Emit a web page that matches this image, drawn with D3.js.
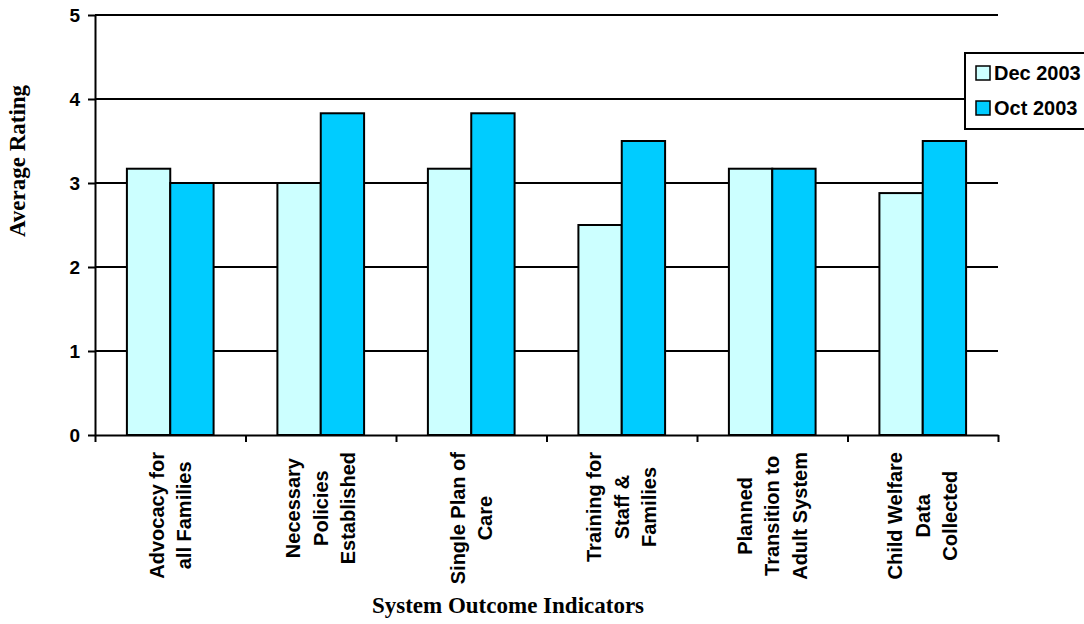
<!DOCTYPE html>
<html>
<head>
<meta charset="utf-8">
<script src="https://cdn.jsdelivr.net/npm/d3@7"></script>
<style>
  body { margin: 0; background: #fff; }
  svg { display: block; }
</style>
</head>
<body>
<svg id="chart" width="1084" height="624"></svg>
<script>
// Category labels (one entry per line of the wrapped label)
const categories = [
  ["Advocacy for", "all Families"],
  ["Necessary", "Policies", "Established"],
  ["Single Plan of", "Care"],
  ["Training for", "Staff &", "Families"],
  ["Planned", "Transition to", "Adult System"],
  ["Child Welfare", "Data", "Collected"]
];
const seriesNames = ["Dec 2003", "Oct 2003"];
const dec2003 = [3.17, 3.0, 3.17, 2.5, 3.17, 2.88];
const oct2003 = [3.0, 3.83, 3.83, 3.5, 3.17, 3.5];
const yTicks = [0, 1, 2, 3, 4, 5];
const seriesColors = ["#CCFFFF", "#00CCFF"];

const svg = d3.select("#chart");
const plot = { left: 95, right: 998, top: 15, bottom: 435 };

const y = d3.scaleLinear().domain([0, 5]).range([plot.bottom, plot.top]);
const x = d3.scaleBand()
  .domain(d3.range(categories.length))
  .range([plot.left, plot.right])
  .paddingInner(0.424)
  .paddingOuter(0.212);
const xSeries = d3.scaleBand().domain(seriesNames).range([0, x.bandwidth()]);
const xBoundary = d3.scaleLinear().domain([0, categories.length]).range([plot.left, plot.right]);

const values = [dec2003, oct2003];

// Horizontal gridlines
svg.append("g")
  .selectAll("line")
  .data(yTicks.filter(t => t > 0))
  .join("line")
  .attr("x1", plot.left).attr("x2", plot.right)
  .attr("y1", d => y(d)).attr("y2", d => y(d))
  .attr("stroke", "#000").attr("stroke-width", 2);

// Bars
const groups = svg.append("g")
  .selectAll("g")
  .data(categories.map((c, i) => i))
  .join("g")
  .attr("transform", i => `translate(${x(i)},0)`);

groups.selectAll("rect")
  .data(i => seriesNames.map((s, k) => ({ s, k, v: values[k][i] })))
  .join("rect")
  .attr("x", d => xSeries(d.s))
  .attr("width", xSeries.bandwidth())
  .attr("y", d => y(d.v))
  .attr("height", d => y(0) - y(d.v))
  .attr("fill", d => seriesColors[d.k])
  .attr("stroke", "#000")
  .attr("stroke-width", 2);

// Y axis
const yAxis = svg.append("g")
  .attr("transform", `translate(${plot.left},0)`)
  .call(d3.axisLeft(y).tickValues(yTicks).tickFormat(d3.format("d")).tickSize(7).tickPadding(8).tickSizeOuter(0));
yAxis.select(".domain").attr("stroke", "#000").attr("stroke-width", 2);
yAxis.selectAll(".tick line").attr("stroke", "#000").attr("stroke-width", 2);
yAxis.selectAll(".tick text")
  .attr("font-family", "Liberation Sans, Arial, sans-serif")
  .attr("font-weight", "bold")
  .attr("font-size", 19)
  .attr("fill", "#000");

// X axis with ticks at category boundaries
const xAxis = svg.append("g")
  .attr("transform", `translate(0,${plot.bottom})`)
  .call(d3.axisBottom(xBoundary).tickValues(d3.range(categories.length + 1)).tickFormat("").tickSize(7).tickSizeOuter(0));
xAxis.select(".domain").attr("stroke", "#000").attr("stroke-width", 2);
xAxis.selectAll(".tick line").attr("stroke", "#000").attr("stroke-width", 2);

// Rotated, multi-line category labels
const labelTop = 452;
const lineStep = 27.5;
const labelGroups = svg.append("g")
  .attr("font-family", "Liberation Sans, Arial, sans-serif")
  .attr("font-weight", "bold")
  .attr("font-size", 20)
  .selectAll("g")
  .data(categories.map((lines, i) => ({ lines, i })))
  .join("g");

labelGroups.each(function(d) {
  const g = d3.select(this);
  const cx = x(d.i) + x.bandwidth() / 2;
  const n = d.lines.length;
  const texts = g.selectAll("text")
    .data(d.lines)
    .join("text")
    .text(t => t)
    .attr("text-anchor", "middle")
    .attr("fill", "#000");
  let maxW = 0;
  texts.each(function() { maxW = Math.max(maxW, this.getComputedTextLength()); });
  const cy = labelTop + maxW / 2;
  texts.attr("transform", (t, j) => {
    const lx = cx + (j - (n - 1) / 2) * lineStep + 7;
    return `translate(${lx},${cy}) rotate(-90)`;
  });
});

// Axis titles
svg.append("text")
  .attr("transform", `translate(25,161) rotate(-90)`)
  .attr("text-anchor", "middle")
  .attr("font-family", "Liberation Serif, 'Times New Roman', serif")
  .attr("font-weight", "bold")
  .attr("font-size", 23)
  .text("Average Rating");

svg.append("text")
  .attr("x", 508).attr("y", 613)
  .attr("text-anchor", "middle")
  .attr("font-family", "Liberation Serif, 'Times New Roman', serif")
  .attr("font-weight", "bold")
  .attr("font-size", 23)
  .text("System Outcome Indicators");

// Legend
const legend = svg.append("g");
legend.append("rect")
  .attr("x", 965).attr("y", 53)
  .attr("width", 200).attr("height", 76)
  .attr("fill", "#fff").attr("stroke", "#000").attr("stroke-width", 2);
const items = legend.selectAll("g.item")
  .data(seriesNames)
  .join("g")
  .attr("class", "item")
  .attr("transform", (d, i) => `translate(976,${73 + i * 35})`);
items.append("rect")
  .attr("x", 0).attr("y", -7)
  .attr("width", 14).attr("height", 14)
  .attr("fill", (d, i) => seriesColors[i])
  .attr("stroke", "#000").attr("stroke-width", 1.5);
items.append("text")
  .attr("x", 18).attr("y", 7)
  .attr("font-family", "Liberation Sans, Arial, sans-serif")
  .attr("font-weight", "bold")
  .attr("font-size", 20)
  .text(d => d);
</script>
</body>
</html>
